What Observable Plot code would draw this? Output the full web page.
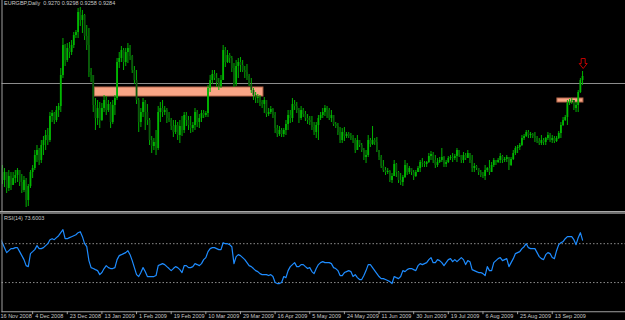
<!DOCTYPE html>
<html><head><meta charset="utf-8">
<script src="https://cdn.jsdelivr.net/npm/d3@7"></script>
<script src="https://cdn.jsdelivr.net/npm/@observablehq/plot@0.6"></script>
<style>
html,body{margin:0;padding:0;background:#000;}
#chart{width:625px;height:320px;background:#000;overflow:hidden;}
#chart svg{display:block;}
.sep{height:3px;background:#6e6e6e;border-top:1px solid #a8a8a8;box-sizing:border-box;}
</style>
</head><body><div id="chart"></div>
<script>
const titleText = "EURGBP,Daily  0.9270 0.9298 0.9258 0.9284";
const rsiLabel = "RSI(14) 73.6003";

const highs = [.835,.837,.835,.832,.828,.830,.828,.828,.830,.832,
.830,.826,.824,.822,.816,.830,.835,.850,.855,.852,
.860,.864,.870,.872,.888,.890,.888,.894,.897,.932,
.962,.956,.957,.958,.960,.968,.970,.992,.993,.990,
.986,.975,.972,.932,.925,.902,.900,.898,.897,.905,
.904,.900,.898,.900,.905,.942,.948,.954,.952,.952,
.957,.955,.945,.934,.930,.902,.892,.902,.900,.896,
.882,.864,.862,.870,.894,.898,.900,.894,.892,.888,
.882,.880,.880,.878,.880,.884,.888,.888,.884,.884,
.878,.892,.890,.886,.890,.890,.889,.915,.925,.930,
.930,.927,.922,.925,.955,.953,.950,.947,.944,.937,
.940,.942,.943,.940,.934,.936,.926,.922,.912,.908,
.906,.905,.900,.903,.900,.892,.894,.892,.888,.875,
.874,.872,.872,.880,.890,.890,.902,.900,.898,.892,
.894,.892,.889,.886,.884,.884,.878,.878,.885,.888,
.892,.895,.894,.892,.890,.885,.878,.877,.873,.872,
.873,.868,.868,.867,.865,.862,.865,.860,.857,.852,
.850,.865,.862,.874,.862,.863,.850,.845,.840,.833,
.832,.830,.827,.840,.837,.829,.827,.825,.840,.837,
.834,.832,.830,.830,.834,.840,.842,.839,.839,.847,
.849,.848,.845,.842,.843,.852,.844,.840,.844,.845,
.847,.846,.852,.850,.845,.848,.847,.850,.847,.845,
.837,.835,.832,.830,.828,.835,.833,.840,.838,.842,
.840,.842,.847,.845,.843,.845,.843,.843,.850,.854,
.855,.857,.865,.866,.870,.870,.868,.867,.868,.864,
.862,.865,.862,.863,.868,.867,.865,.864,.864,.869,
.878,.883,.885,.900,.901,.902,.900,.898,.910,.922,.929];

const lows = [.818,.815,.816,.813,.807,.809,.810,.815,.817,.818,
.814,.807,.808,.793,.794,.812,.822,.830,.838,.835,
.837,.845,.850,.855,.858,.878,.876,.878,.883,.888,
.922,.934,.938,.942,.945,.952,.962,.962,.974,.967,
.960,.950,.923,.918,.888,.870,.875,.872,.879,.888,
.885,.888,.872,.876,.885,.900,.932,.938,.930,.934,
.937,.940,.927,.916,.896,.868,.873,.883,.870,.875,
.855,.847,.850,.845,.850,.878,.883,.885,.877,.878,
.870,.863,.866,.860,.857,.864,.867,.874,.870,.867,
.868,.870,.873,.872,.878,.882,.883,.883,.908,.916,
.920,.913,.910,.912,.920,.933,.937,.937,.928,.913,
.914,.922,.928,.928,.922,.920,.914,.907,.900,.897,
.897,.894,.892,.887,.883,.884,.886,.882,.867,.863,
.864,.863,.863,.865,.870,.877,.878,.890,.887,.877,
.880,.883,.879,.876,.875,.870,.865,.862,.860,.880,
.882,.884,.882,.880,.878,.874,.872,.865,.857,.857,
.859,.862,.862,.860,.857,.847,.850,.853,.848,.840,
.837,.843,.853,.855,.855,.848,.840,.832,.828,.825,
.826,.818,.817,.824,.823,.817,.815,.814,.822,.825,
.826,.825,.820,.823,.828,.828,.833,.833,.833,.837,
.840,.837,.832,.833,.837,.838,.833,.833,.837,.840,
.838,.840,.838,.843,.837,.837,.840,.842,.837,.828,
.828,.830,.825,.823,.822,.820,.828,.825,.828,.833,
.835,.837,.837,.837,.838,.838,.830,.834,.840,.845,
.847,.850,.854,.860,.863,.862,.862,.862,.858,.857,
.855,.855,.855,.855,.860,.858,.857,.857,.858,.861,
.862,.874,.879,.875,.895,.896,.890,.888,.888,.907,.915];

const opens = [.822,.830,.832,.820,.828,.812,.824,.815,.822,.825,
.830,.818,.810,.820,.800,.814,.828,.832,.845,.850,
.840,.855,.860,.865,.860,.884,.887,.880,.890,.894,
.925,.955,.940,.952,.948,.955,.965,.968,.988,.980,
.985,.964,.955,.928,.925,.895,.882,.892,.880,.892,
.900,.890,.896,.878,.895,.902,.938,.942,.950,.938,
.948,.952,.944,.930,.920,.900,.878,.888,.898,.888,
.880,.860,.854,.858,.852,.888,.892,.888,.890,.882,
.880,.874,.868,.875,.865,.874,.870,.885,.880,.875,
.872,.875,.888,.878,.882,.887,.885,.887,.912,.920,
.926,.922,.918,.914,.920,.950,.938,.945,.942,.932,
.916,.934,.938,.935,.930,.928,.924,.916,.910,.905,
.902,.903,.898,.896,.900,.886,.888,.891,.885,.872,
.866,.870,.866,.870,.876,.885,.882,.896,.894,.890,
.882,.890,.886,.882,.880,.878,.873,.868,.875,.882,
.885,.888,.892,.890,.882,.885,.876,.874,.868,.860,
.868,.864,.866,.864,.862,.860,.850,.860,.855,.850,
.843,.845,.860,.856,.860,.858,.850,.843,.834,.830,
.828,.829,.820,.824,.836,.828,.820,.818,.823,.835,
.828,.832,.828,.824,.828,.832,.838,.837,.836,.838,
.844,.846,.840,.835,.838,.840,.843,.836,.838,.842,
.843,.842,.844,.850,.845,.840,.845,.842,.847,.840,
.832,.834,.832,.828,.825,.824,.830,.832,.828,.835,
.840,.838,.840,.844,.840,.841,.843,.835,.841,.847,
.852,.853,.855,.862,.864,.868,.865,.866,.864,.862,
.859,.857,.860,.858,.862,.865,.860,.862,.859,.862,
.867,.875,.880,.883,.897,.899,.900,.892,.895,.908,.920];

const closes = [.830,.832,.820,.828,.812,.824,.815,.822,.825,.830,
.818,.810,.820,.800,.814,.828,.832,.845,.850,.840,
.855,.860,.865,.860,.884,.887,.880,.890,.894,.925,
.955,.940,.952,.948,.955,.965,.968,.988,.980,.985,
.964,.955,.928,.925,.895,.882,.892,.880,.892,.900,
.890,.896,.878,.895,.902,.938,.942,.950,.938,.948,
.952,.944,.930,.920,.900,.878,.888,.898,.888,.880,
.860,.854,.858,.852,.888,.892,.888,.890,.882,.880,
.874,.868,.875,.865,.874,.870,.885,.880,.875,.872,
.875,.888,.878,.882,.887,.885,.887,.912,.920,.926,
.922,.918,.914,.920,.950,.938,.945,.942,.932,.916,
.934,.938,.935,.930,.928,.924,.916,.910,.905,.902,
.903,.898,.896,.900,.886,.888,.891,.885,.872,.866,
.870,.866,.870,.876,.885,.882,.896,.894,.890,.882,
.890,.886,.882,.880,.878,.873,.868,.875,.882,.885,
.888,.892,.890,.882,.885,.876,.874,.868,.860,.868,
.864,.866,.864,.862,.860,.850,.860,.855,.850,.843,
.845,.860,.856,.860,.858,.850,.843,.834,.830,.828,
.829,.820,.824,.836,.828,.820,.818,.823,.835,.828,
.832,.828,.824,.828,.832,.838,.837,.836,.838,.844,
.846,.840,.835,.838,.840,.843,.836,.838,.842,.843,
.842,.844,.850,.845,.840,.845,.842,.847,.840,.832,
.834,.832,.828,.825,.824,.830,.832,.828,.835,.840,
.838,.840,.844,.840,.841,.843,.835,.841,.847,.852,
.853,.855,.862,.864,.868,.865,.866,.864,.862,.859,
.857,.860,.858,.862,.865,.860,.862,.859,.862,.867,
.875,.880,.883,.897,.899,.900,.892,.895,.908,.920,.924];

const rsi14 = [77.2,75.1,71.0,65.9,60.8,62.8,64.9,64.9,65.9,65.9,
61.8,57.7,53.6,47.4,46.4,59.8,61.8,63.9,68.0,64.9,
64.9,65.9,68.0,70.0,74.1,75.1,74.1,76.2,78.2,81.3,
84.4,75.1,75.1,76.2,77.2,78.2,79.2,81.3,82.3,77.2,
70.0,66.9,52.6,45.4,44.4,43.3,42.3,38.2,40.3,44.4,
47.4,45.4,44.4,44.4,45.4,53.6,57.7,58.7,59.8,60.8,
62.8,58.7,52.6,45.4,38.2,36.2,40.3,45.4,41.3,36.2,
36.2,36.2,36.2,37.2,47.4,48.5,49.5,48.5,46.4,44.4,
42.3,44.4,46.4,45.4,43.3,40.3,47.4,47.4,45.4,45.4,
46.4,49.5,48.5,47.4,49.5,53.6,55.7,61.8,64.9,65.9,
65.9,64.9,63.9,63.9,71.0,70.0,70.0,69.0,66.9,49.5,
56.7,58.7,57.7,55.7,53.6,50.5,47.4,46.4,44.4,42.3,
41.3,39.2,38.2,38.2,38.2,37.2,38.2,36.2,30.0,29.0,
29.0,30.0,36.2,35.1,42.3,46.4,48.5,50.5,46.4,46.4,
48.5,48.5,46.4,44.4,45.4,41.3,39.2,44.4,48.5,50.5,
51.5,50.5,50.5,50.5,49.5,45.4,44.4,42.3,37.2,37.2,
40.3,41.3,42.3,41.3,36.2,38.2,35.1,33.1,33.1,37.2,
42.3,48.5,48.5,45.4,42.3,39.2,36.2,34.1,34.1,33.1,
32.1,31.0,29.0,36.2,35.1,34.1,36.2,42.3,41.3,43.3,
44.4,44.4,43.3,42.3,47.4,49.5,48.5,49.5,50.5,53.6,
55.7,50.5,50.5,53.6,52.6,50.5,47.4,50.5,53.6,54.6,
51.5,53.6,51.5,53.6,55.7,53.6,48.5,52.6,51.5,43.3,
42.3,41.3,40.3,40.3,39.2,37.2,46.4,42.3,42.3,50.5,
52.6,54.6,55.7,52.6,53.6,54.6,46.4,50.5,54.6,59.8,
60.8,61.8,64.9,66.9,70.0,65.9,64.9,64.9,64.9,60.8,
56.7,54.6,53.6,58.7,60.8,59.8,55.7,54.6,62.8,69.0,
71.0,72.1,75.1,77.2,77.2,77.2,74.1,69.0,76.2,81.3,
73.6];

const tickLabels = ["16 Nov 2008","4 Dec 2008","23 Dec 2008","13 Jan 2009","1 Feb 2009","19 Feb 2009","10 Mar 2009","29 Mar 2009","16 Apr 2009","5 May 2009","24 May 2009","11 Jun 2009","30 Jun 2009","19 Jul 2009","6 Aug 2009","25 Aug 2009","13 Sep 2009"];
const tickBars = [0,16,32,48,64,80,96,112,128,144,160,176,192,208,224,240,256];

const zoneStart = [44.6, 258.4];
const zoneEnd = [122.6, 270.4];
const zoneTop = [0.913, 0.902];
const zoneBottom = [0.904, 0.898];
const levelPrice = [0.917];
const arrowBar = [270.3];
const arrowPrice = [0.937];
const rsiLevels = [30, 70];

const bars = opens.map((o, i) => ({i, open: o, high: highs[i], low: lows[i], close: closes[i], up: closes[i] >= o}));
const rsiData = rsi14.map((v, i) => ({i, v}));
const zones = zoneStart.map((s, k) => ({x1: s, x2: zoneEnd[k], y1: zoneBottom[k], y2: zoneTop[k]}));
const arrows = arrowBar.map((b, k) => ({x: b, y: arrowPrice[k]}));
const ticks = tickBars.map((b, k) => ({x: b, label: tickLabels[k]}));

// hollow down-arrow symbol (shape only, placed by the scales)
const downArrow = {
  draw(ctx) {
    ctx.moveTo(-2, -5); ctx.lineTo(2, -5); ctx.lineTo(2, 0); ctx.lineTo(4, 0);
    ctx.lineTo(0, 5); ctx.lineTo(-4, 0); ctx.lineTo(-2, 0); ctx.closePath();
  }
};

const xDomain = [1.848, 289.84];
const font = "'Liberation Sans', Arial, sans-serif";
const textColor = "#c8c8c8";
const frameColor = "#a0a0a0";

const pricePlot = Plot.plot({
  width: 625, height: 211,
  marginTop: 0, marginBottom: 0, marginLeft: 1.5, marginRight: 0,
  style: {background: "#000", fontFamily: font, color: textColor},
  x: {domain: xDomain, axis: null},
  y: {domain: [0.789, 1.0], axis: null},
  marks: [
    Plot.ruleY(levelPrice, {stroke: "#8c8c8c", strokeWidth: 1}),
    Plot.rect(zones, {x1: "x1", x2: "x2", y1: "y1", y2: "y2", fill: "#f8a586", stroke: "#b8694c", strokeWidth: 1}),
    Plot.ruleX(bars, {x: "i", y1: "low", y2: "high", stroke: "#00b000", strokeWidth: 1, clip: true}),
    Plot.ruleX(bars, {x: "i", y1: "open", y2: "close", stroke: d => d.up ? "#00b800" : "#0b5a0b", strokeWidth: 1.8, clip: true}),
    Plot.dot(arrows, {x: "x", y: "y", symbol: downArrow, r: 5, fill: "#000", stroke: "#c00000", strokeWidth: 1}),
    Plot.text([titleText], {frameAnchor: "top-left", text: d => d, dx: 2, dy: 1, lineAnchor: "top", textAnchor: "start", fill: textColor, fontSize: 5.5}),
    Plot.frame({anchor: "left", stroke: frameColor})
  ]
});

const rsiPlot = Plot.plot({
  width: 625, height: 106,
  marginTop: 0, marginBottom: 8.75, marginLeft: 1.5, marginRight: 0,
  style: {background: "#000", fontFamily: font, color: textColor},
  x: {domain: xDomain, axis: null},
  y: {domain: [0, 100], axis: null},
  marks: [
    Plot.ruleY(rsiLevels, {stroke: "#8c8c8c", strokeDasharray: "1.5,2"}),
    Plot.ruleY([0], {stroke: frameColor}),
    Plot.line(rsiData, {x: "i", y: "v", stroke: "#1e8cff", strokeWidth: 1.2, clip: true}),
    Plot.ruleX(ticks, {x: "x", y1: 0, y2: -3, stroke: frameColor}),
    Plot.text(ticks, {x: "x", frameAnchor: "bottom", text: "label", textAnchor: "start", lineAnchor: "top", dx: 2.5, dy: 2, fill: textColor, fontSize: 5.5}),
    Plot.text([rsiLabel], {frameAnchor: "top-left", text: d => d, dx: 2, dy: 2, lineAnchor: "top", textAnchor: "start", fill: textColor, fontSize: 5.5}),
    Plot.frame({anchor: "left", stroke: frameColor})
  ]
});

const root = document.getElementById("chart");
root.appendChild(pricePlot);
const sep = document.createElement("div");
sep.className = "sep";
root.appendChild(sep);
root.appendChild(rsiPlot);
</script>
</body></html>
